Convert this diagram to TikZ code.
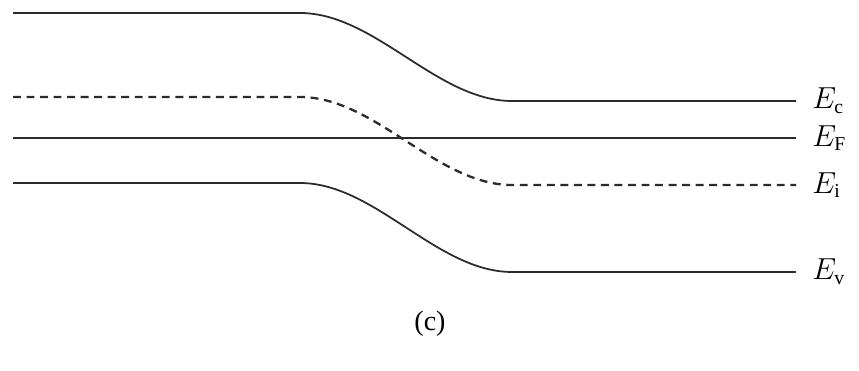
\documentclass[tikz,border=0pt]{standalone}
\usepackage{amsmath}
\usepackage{fontspec}
\setmainfont{Liberation Serif}
\usetikzlibrary{positioning}
\definecolor{Ink}{HTML}{2B2B2B}

\begin{document}
\begin{tikzpicture}[
  x=0.02cm,y=-0.02cm,
  band/.style={draw=Ink,line width=1pt},
  level/.style={band,line width=1.3pt,dash pattern=on 4.5pt off 3.2pt},
  lbl/.style={anchor=west,inner sep=0pt,font=\fontsize{16}{18}\selectfont}
]
  \useasboundingbox (0,0) rectangle (859,371);
  % left ends, bend start, bend end, right ends
  \coordinate (cL) at (13,13);   \coordinate (cA) at (300,13);  \coordinate (cB) at (512,101); \coordinate (cR) at (796,101);
  \coordinate (iL) at (13,97);   \coordinate (iA) at (300,97);  \coordinate (iB) at (512,185); \coordinate (iR) at (796,185);
  \coordinate (fL) at (13,138);  \coordinate (fR) at (796,138);
  \coordinate (vL) at (13,183);  \coordinate (vA) at (300,183); \coordinate (vB) at (512,272); \coordinate (vR) at (796,272);

  \draw[band] (cL) -- (cA) .. controls +(75,0) and +(-75,0) .. (cB) -- (cR);
  \draw[level] (iL) -- (iA) .. controls +(75,0) and +(-75,0) .. (iB) -- (iR);
  \draw[band] (fL) -- (fR);
  \draw[band] (vL) -- (vA) .. controls +(75,0) and +(-75,0) .. (vB) -- (vR);

  \node[lbl,right=16 of cR] (Ec) {$E_{\text{c}}$};
  \node[lbl,right=16 of fR] (EF) {$E_{\text{F}}$};
  \node[lbl,right=16 of iR] (Ei) {$E_{\text{i}}$};
  \node[lbl,right=16 of vR] (Ev) {$E_{\text{v}}$};

  \node[font=\fontsize{16}{18}\selectfont] (cap) at (430,324) {(c)};
\end{tikzpicture}
\end{document}
